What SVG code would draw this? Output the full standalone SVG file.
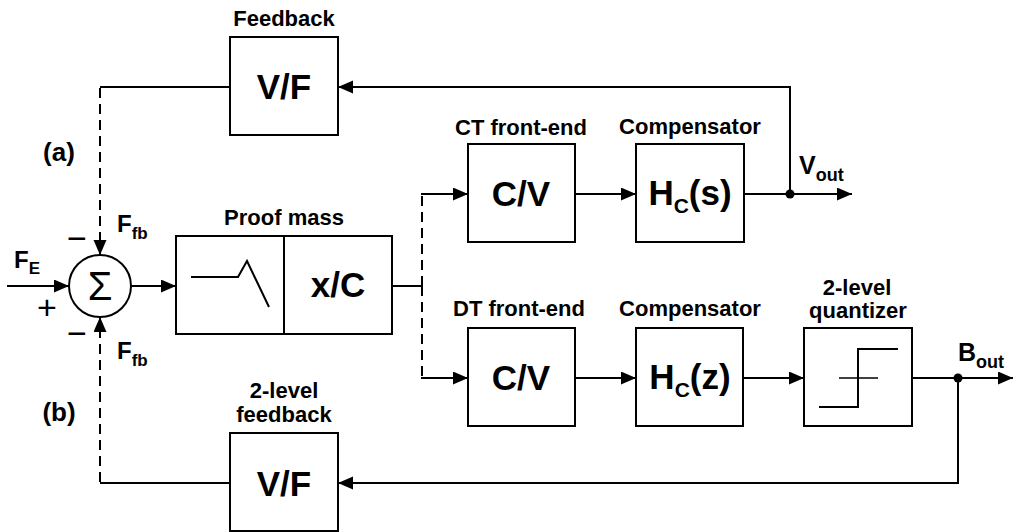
<svg xmlns="http://www.w3.org/2000/svg" width="1014" height="532" viewBox="0 0 1014 532">
<style>
.box{fill:#fff;stroke:#000;stroke-width:2}
.ln{fill:none;stroke:#000;stroke-width:2}
.thin{fill:none;stroke:#000;stroke-width:1.3}
.dash{stroke-dasharray:10 6}
.arr{marker-end:url(#ah)}
text{font-family:"Liberation Sans",Arial,Helvetica,sans-serif;font-weight:bold;fill:#000}
.lbl{font-size:22px;text-anchor:middle}
.big{font-size:35px;text-anchor:middle}
.sym{font-size:24px}
.sub{font-size:17px}
.pm{font-size:34px;font-weight:normal;text-anchor:middle}
</style>
<defs>
<marker id="ah" markerUnits="userSpaceOnUse" markerWidth="16" markerHeight="14" refX="15" refY="6.5" orient="auto">
<path d="M0,0 L15,6.5 L0,13 Z" fill="#000"/>
</marker>
</defs>
<rect width="1014" height="532" fill="#fff"/>

<g id="connectors">
<path class="ln arr" d="M7,286 H69"/>
<path class="ln arr" d="M131,286 H176"/>
<path class="ln" d="M392,286 H422"/>
<path class="ln dash" d="M422,286 V194"/>
<path class="ln dash" d="M422,286 V378"/>
<path class="ln arr" d="M421,194 H468"/>
<path class="ln arr" d="M421,378 H468"/>
<path class="ln arr" d="M575,194 H636"/>
<path class="ln arr" d="M744,194 H852"/>
<path class="ln arr" d="M575,378 H636"/>
<path class="ln arr" d="M743,378 H804"/>
<path class="ln arr" d="M912,378 H1013"/>
<path class="ln arr" d="M790,194 V87 H338"/>
<path class="ln" d="M230,87 H100"/>
<path class="ln dash arr" d="M100,88 V255"/>
<path class="ln arr" d="M958,378 V483 H338"/>
<path class="ln" d="M230,483 H100"/>
<path class="ln dash arr" d="M100,482 V317"/>
<circle cx="790" cy="194" r="4.5" fill="#000"/>
<circle cx="958" cy="378" r="4.5" fill="#000"/>
</g>

<g id="sum">
<circle class="box" cx="100" cy="286" r="31"/>
<text x="100" y="300" style="font-size:40px;font-weight:normal;text-anchor:middle">Σ</text>
<text class="pm" x="77" y="250">−</text>
<text class="pm" x="77" y="345">−</text>
<text class="pm" x="47" y="319">+</text>
<text class="sym" x="14" y="268">F<tspan class="sub" dy="6">E</tspan></text>
<text class="sym" x="117" y="232">F<tspan class="sub" dy="7">fb</tspan></text>
<text class="sym" x="117" y="359">F<tspan class="sub" dy="7">fb</tspan></text>
</g>

<g id="labels-ab">
<text x="59" y="161" style="font-size:26px;text-anchor:middle">(a)</text>
<text x="59" y="421" style="font-size:26px;text-anchor:middle">(b)</text>
</g>

<g id="vf-top">
<text class="lbl" x="284" y="26">Feedback</text>
<rect class="box" x="230" y="37" width="108" height="98"/>
<text class="big" x="284" y="99">V/F</text>
</g>

<g id="proof-mass">
<text class="lbl" x="284" y="225">Proof mass</text>
<rect class="box" x="176" y="236" width="216" height="98"/>
<line class="ln" x1="284" y1="236" x2="284" y2="334"/>
<path class="ln" d="M191,277 H238 L247,261 L269,307"/>
<text class="big" x="338" y="297">x/C</text>
</g>

<g id="cv-ct">
<text class="lbl" x="521" y="135">CT front-end</text>
<rect class="box" x="468" y="144" width="107" height="98"/>
<text class="big" x="521" y="206">C/V</text>
</g>

<g id="hc-s">
<text class="lbl" x="690" y="134">Compensator</text>
<rect class="box" x="636" y="144" width="108" height="98"/>
<text class="big" x="690" y="205">H<tspan style="font-size:21px" dy="8">C</tspan><tspan dy="-8">(s)</tspan></text>
</g>

<g id="vout">
<text style="font-size:25px" x="799" y="174">V<tspan style="font-size:18px" dy="7">out</tspan></text>
</g>

<g id="cv-dt">
<text class="lbl" x="519" y="316">DT front-end</text>
<rect class="box" x="468" y="328" width="107" height="98"/>
<text class="big" x="521" y="390">C/V</text>
</g>

<g id="hc-z">
<text class="lbl" x="690" y="316">Compensator</text>
<rect class="box" x="636" y="328" width="107" height="98"/>
<text class="big" x="690" y="389">H<tspan style="font-size:21px" dy="8">C</tspan><tspan dy="-8">(z)</tspan></text>
</g>

<g id="quantizer">
<text class="lbl" x="857" y="295">2-level</text>
<text class="lbl" x="858" y="318">quantizer</text>
<rect class="box" x="804" y="328" width="108" height="98"/>
<line class="thin" x1="839" y1="378" x2="878" y2="378"/>
<path class="ln" d="M819,407 H858 V349 H898"/>
</g>

<g id="bout">
<text style="font-size:25px" x="958" y="361">B<tspan style="font-size:18px" dy="7">out</tspan></text>
</g>

<g id="vf-bottom">
<text class="lbl" x="284" y="398">2-level</text>
<text class="lbl" x="284" y="422">feedback</text>
<rect class="box" x="230" y="433" width="108" height="98"/>
<text class="big" x="284" y="496">V/F</text>
</g>
</svg>
